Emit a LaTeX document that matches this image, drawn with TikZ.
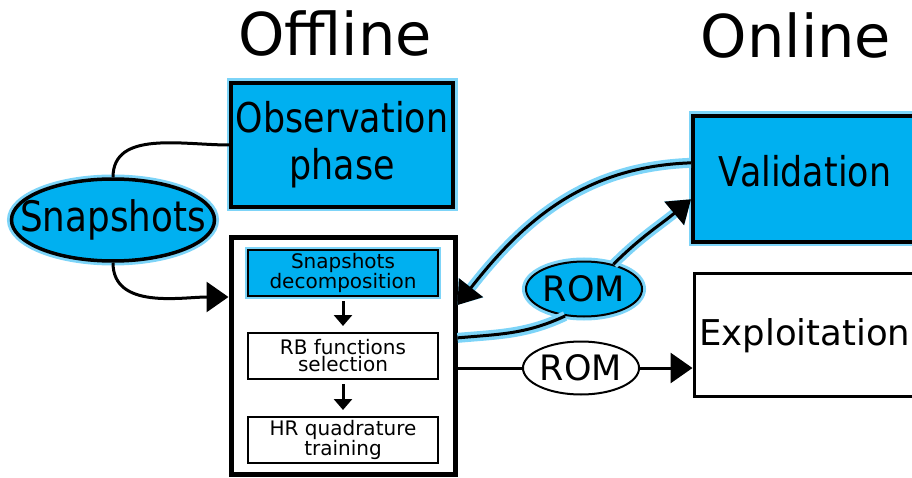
\documentclass[tikz,border=0pt]{standalone}
\usepackage{fontspec}
\setmainfont{DejaVu Sans}
\newfontfamily\narrowfont{DejaVu Sans}[FakeStretch=0.85]
\usetikzlibrary{arrows.meta, shapes.geometric, positioning}
\definecolor{sky}{RGB}{0,176,240}
\definecolor{halo}{RGB}{125,212,248}

\tikzset{
  halo/.style={preaction={draw=halo, line width=#1}},
  skybox/.style={draw=black, fill=sky, line width=4pt, halo=9pt, inner sep=0pt},
  plainbox/.style={draw=black, fill=white, line width=3pt, inner sep=0pt},
  stage/.style={draw=black, line width=2pt, minimum width=190pt, minimum height=46pt,
    inner sep=0pt, align=center, font=\fontsize{20}{17}\selectfont},
  rom/.style={ellipse, draw=black, line width=2pt, inner sep=0pt,
    minimum width=112pt, minimum height=55pt, font=\fontsize{35}{40}\selectfont},
  link/.style={line width=3pt},
  bigtip/.style={-{Triangle[length=22pt,width=30pt]}},
  smalltip/.style={line width=3pt, -{Triangle[length=11pt,width=18pt]}},
}

\begin{document}
\begin{tikzpicture}[x=1pt, y=1pt]
\useasboundingbox (0,0) rectangle (912,477);

% titles
\node[font=\fontsize{59}{70}\selectfont, anchor=base] (offline) at (335,421) {Offline};
\node[font=\fontsize{59}{70}\selectfont, anchor=base] (online) at (796,419) {Online};

% offline part
\node[skybox, minimum width=222pt, minimum height=124pt, align=center,
      font=\narrowfont\fontsize{41}{47}\selectfont] (obs) at (342,332) {Observation\\phase};
\node[skybox, ellipse, line width=3.5pt, inner xsep=-22pt, minimum width=203pt, minimum height=82pt,
      font=\narrowfont\fontsize{42}{40}\selectfont] (snap) at (113,257) {Snapshots};

\node[draw=black, fill=white, line width=5pt, minimum width=224pt, minimum height=236pt] (offbox) at (343,121) {};
\node[stage, fill=sky, halo=6pt] (dec) at (343,204) {Snapshots\\decomposition};
\node[stage, fill=white] (rb) at (343,121) {RB functions\\selection};
\node[stage, fill=white] (hr) at (343,37) {HR quadrature\\training};

\draw[smalltip, shorten <=4pt, shorten >=6pt] (dec) -- (rb);
\draw[smalltip, shorten <=4pt, shorten >=6pt] (rb) -- (hr);

% online part
\node[skybox, minimum width=226pt, minimum height=126pt] (val) at (806,298) {};
\node[font=\narrowfont\fontsize{41}{40}\selectfont, anchor=base] (valtxt) at (805,290) {Validation};
\node[plainbox, minimum width=226pt, minimum height=123pt] (expl) at (807,142.5) {};
\node[font=\fontsize{35.5}{40}\selectfont, anchor=base west, inner sep=0pt] (expltxt) at (699,132) {Exploitation};

\node[rom, fill=sky, halo=8pt] (romA) at (584,188) {ROM};
\node[rom, fill=white, minimum width=111pt, minimum height=53pt] (romB) at (581,109) {ROM};

% connectors
\draw[link] (obs.west) to[out=180, in=90] (snap.north);
\draw[link, bigtip] (snap.south) to[out=-90, in=180] (offbox.west |- dec.south);

\draw[link, halo=10pt, bigtip] (val.172) to[out=182, in=52] (offbox.24);
\draw[link, halo=10pt] (offbox.9) to[out=5, in=205] (romA.235);
\draw[link, halo=10pt, bigtip] (romA.40) to[out=45, in=220] (val.190);

\draw[link] (offbox.east |- romB) -- (romB.west);
\draw[link, bigtip] (romB.east) -- (expl.west |- romB);
\end{tikzpicture}
\end{document}
